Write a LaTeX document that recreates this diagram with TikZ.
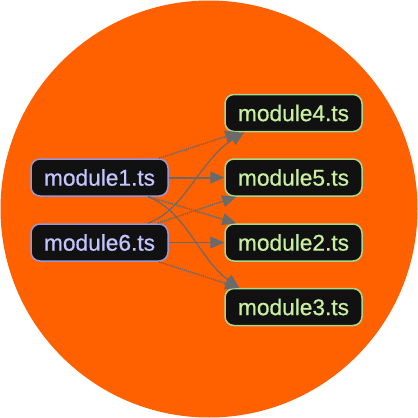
\documentclass[tikz,border=0pt]{standalone}
\usepackage{fontspec}
\setmainfont{Liberation Sans}
\newfontfamily\modfont[FakeBold=0.7]{Liberation Sans}
\usetikzlibrary{arrows.meta,calc}
\definecolor{bgorange}{HTML}{FF6000}
\definecolor{boxfill}{HTML}{111111}
\definecolor{lefttext}{HTML}{C4C4FF}
\definecolor{leftborder}{HTML}{9898D8}
\definecolor{righttext}{HTML}{C8F0A0}
\definecolor{rightborder}{HTML}{A8D890}
\definecolor{edgegray}{HTML}{6A6A6A}
\begin{document}
\begin{tikzpicture}[x=1pt,y=-1pt,
  modbox/.style={draw, line width=1.5pt, fill=boxfill, rounded corners=9pt,
    minimum width=137pt, minimum height=37pt, inner sep=0pt,
    font=\modfont\fontsize{22.7}{24}\selectfont},
  leftmod/.style={modbox, draw=leftborder, text=lefttext},
  rightmod/.style={modbox, draw=rightborder, text=righttext},
  edge/.style={draw=edgegray, line width=1.2pt, -{Triangle[length=14pt,width=12pt]}, color=edgegray},
  dotedge/.style={edge, line width=1.5pt, dash pattern=on 1.3pt off 0.9pt},
]
\useasboundingbox (0,0) rectangle (418,418);
\fill[bgorange] (209,209) circle (208.5);

\node[leftmod] (m1) at (99.5,177.5) {module1.ts};
\node[leftmod] (m6) at (99.5,242.5) {module6.ts};
\node[rightmod] (m4) at (293.5,113) {module4.ts};
\node[rightmod] (m5) at (293.5,177.5) {module5.ts};
\node[rightmod] (m2) at (293.5,242.5) {module2.ts};
\node[rightmod] (m3) at (293.5,307) {module3.ts};

% solid straight
\draw[edge, line width=2pt] (m1.east) -- (m5.west);
\draw[edge] (m6.east) -- (m2.west);
% dotted
\draw[dotedge] ([xshift=-10pt]m1.north east) -- ([xshift=15pt]m4.south west);
\draw[dotedge] ([xshift=-20pt]m1.south east) -- ([xshift=12pt]m2.north west);
\draw[dotedge] ([xshift=-11pt]m6.north east) -- ([xshift=12pt]m5.south west);
\draw[dotedge] ([xshift=-10pt]m6.south east) -- ([xshift=15pt]m3.north west);
% curves
\draw[edge] ([xshift=-21pt]m1.south east) .. controls (185,210) and (200,260) .. ([xshift=15pt]m3.north west);
\draw[edge] ([xshift=-21pt]m6.north east) .. controls (185,210) and (200,160) .. ([xshift=20pt]m4.south west);
\end{tikzpicture}
\end{document}
